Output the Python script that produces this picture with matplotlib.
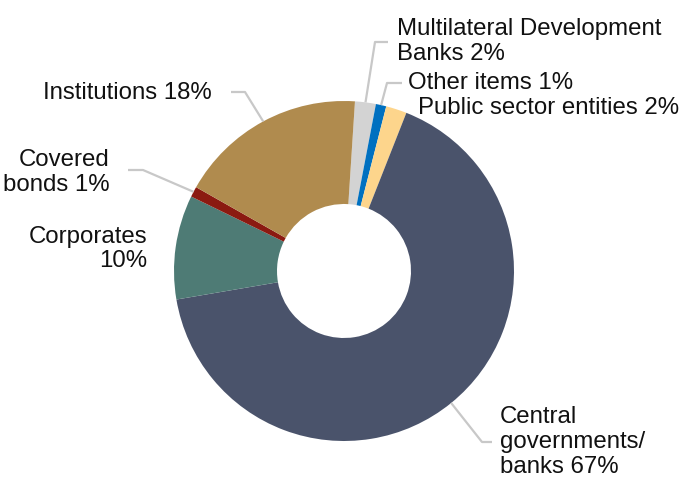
import numpy as np
import matplotlib
matplotlib.use("Agg")
import matplotlib.pyplot as plt

plt.rcParams["font.family"] = ["Liberation Sans", "DejaVu Sans"]

# Exposure split, clockwise from the top of the ring
labels = [
    "Multilateral Development\nBanks 2%",
    "Other items 1%",
    "Public sector entities 2%",
    "Central\ngovernments/\nbanks 67%",
    "Corporates\n10%",
    "Covered\nbonds 1%",
    "Institutions 18%",
]
shares = [2, 1, 2, 67, 10, 1, 18]
colors = ["#d3d3d3", "#0070c0", "#fdd58c", "#4a536b", "#4e7b75", "#8b1a11", "#b08b4e"]

# canvas in pixel units (y measured upwards)
W, H = 681, 480
cx, cy, R = 344, H - 271, 170
start = 86.3

fig = plt.figure(figsize=(W / 100, H / 100), dpi=100)
ax = fig.add_axes([0, 0, 1, 1])
wedges, _ = ax.pie(shares, colors=colors, startangle=start, counterclock=False,
                   center=(cx, cy), radius=R,
                   wedgeprops=dict(width=R - 67, linewidth=0))
ax.set_xlim(0, W)
ax.set_ylim(0, H)
ax.set_aspect("equal")
ax.axis("off")

# label placement: (x, y from top, ha, leader elbow, leader end)
layout = [
    (397, 41.5, "left", (375, 42), (388, 42)),
    (408, 83, "left", (387, 83), (402, 83)),
    (418, 108, "left", None, None),
    (500, 442, "left", (482, 442), (492, 442)),
    (147, 249, "right", None, None),
    (110, 172.5, "right", (143, 170), (128, 170)),
    (212, 93, "right", (245, 92), (231, 92)),
]

for w, lab, (tx, ty, ha, elbow, end) in zip(wedges, labels, layout):
    ax.text(tx, H - ty, lab, ha=ha, va="center", multialignment=ha,
            fontsize=17.3, color="#111111", linespacing=1.17)
    if elbow is None:
        continue
    mid = np.deg2rad((w.theta1 + w.theta2) / 2)
    sx, sy = cx + R * np.cos(mid), cy + R * np.sin(mid)
    ax.plot([sx, elbow[0], end[0]], [sy, H - elbow[1], H - end[1]],
            color="#c8c8c8", linewidth=1.6, solid_capstyle="butt")

fig.savefig("out.png", dpi=100)
